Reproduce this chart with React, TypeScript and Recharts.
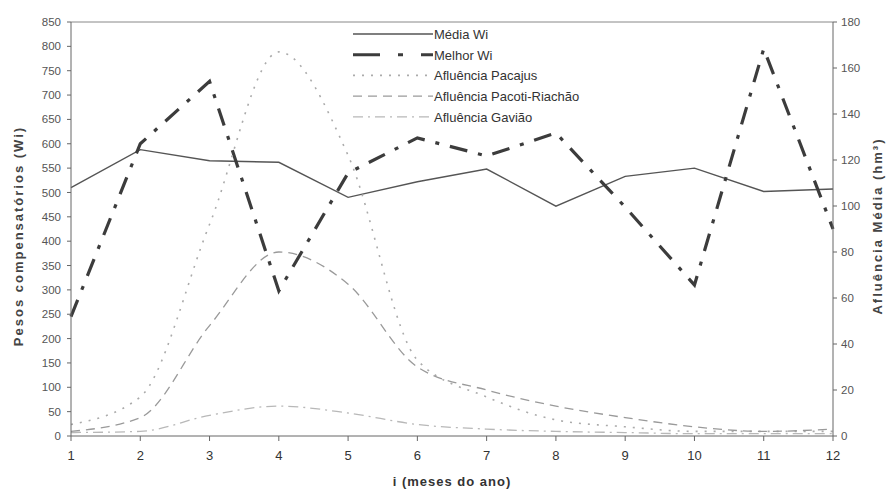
import React from "react";
import {
  LineChart,
  Line,
  XAxis,
  YAxis,
  ReferenceLine,
  Legend,
} from "recharts";

// months 1..12
const meses = [1, 2, 3, 4, 5, 6, 7, 8, 9, 10, 11, 12];

// compensatory weights (left axis)
const mediaWi = [510, 588, 565, 562, 490, 522, 548, 472, 533, 550, 502, 507];
const melhorWi = [245, 600, 728, 298, 540, 612, 575, 622, 470, 310, 795, 425];

// mean inflows in hm³ (right axis)
const pacajus = [5, 17, 92, 167, 122, 33, 17, 7, 4, 2, 2, 2];
const pacotiRiachao = [2, 8, 48, 80, 66, 30, 20, 13, 8, 4, 2, 3];
const gaviao = [1.5, 2, 9, 13, 10, 5, 3, 2, 1.5, 1, 1, 1];

const ticksLeft = [0, 50, 100, 150, 200, 250, 300, 350, 400, 450, 500, 550, 600, 650, 700, 750, 800, 850];
const ticksRight = [0, 20, 40, 60, 80, 100, 120, 140, 160, 180];

const data = meses.map((m, i) => ({
  mes: m,
  mediaWi: mediaWi[i],
  melhorWi: melhorWi[i],
  pacajus: pacajus[i],
  pacoti: pacotiRiachao[i],
  gaviao: gaviao[i],
}));

const SERIES = [
  { key: "mediaWi", name: "Média Wi", color: "#555555", width: 1.4, dash: undefined, axis: "left", curve: "linear" },
  { key: "melhorWi", name: "Melhor Wi", color: "#3c3c3c", width: 3.2, dash: "18 11 4 11", axis: "left", curve: "linear" },
  { key: "pacajus", name: "Afluência Pacajus", color: "#ababab", width: 1.6, dash: "2 7", axis: "right", curve: "monotone" },
  { key: "pacoti", name: "Afluência Pacoti-Riachão", color: "#9a9a9a", width: 1.3, dash: "9 6", axis: "right", curve: "monotone" },
  { key: "gaviao", name: "Afluência Gavião", color: "#b8b8b8", width: 1.3, dash: "10 5 2 5", axis: "right", curve: "monotone" },
] as const;

const FONT = "'Liberation Sans', Arial, sans-serif";
const NARROW = "'Liberation Sans Narrow', 'Liberation Sans', Arial, sans-serif";

const LegendBox = () => (
  <svg width={260} height={110}>
    {SERIES.map((s, i) => {
      const y = 8 + i * 20.7;
      return (
        <g key={s.key}>
          <line
            x1={0}
            x2={80}
            y1={y}
            y2={y}
            stroke={s.color}
            strokeWidth={s.key === "melhorWi" ? 3 : s.width}
            strokeDasharray={s.key === "melhorWi" ? "27 18 5 18" : s.dash}
          />
          <text x={81} y={y + 5} fontSize={13} fill="#333" fontFamily={FONT}>
            {s.name}
          </text>
        </g>
      );
    })}
  </svg>
);

const LeftTitle = () => (
  <text
    x={18}
    y={236}
    transform="rotate(-90 18 236)"
    textAnchor="middle"
    dominantBaseline="central"
    fontSize={13}
    fontWeight="bold"
    letterSpacing={2}
    fill="#444"
    fontFamily={FONT}
  >
    Pesos compensatórios (Wi)
  </text>
);

const RightTitle = () => (
  <text
    x={877}
    y={226}
    transform="rotate(-90 877 226)"
    textAnchor="middle"
    dominantBaseline="central"
    fontSize={13}
    fontWeight="bold"
    letterSpacing={2}
    fill="#444"
    fontFamily={FONT}
  >
    Afluência Média (hm³)
  </text>
);

const BottomTitle = () => (
  <text
    x={452}
    y={486}
    textAnchor="middle"
    fontSize={13}
    fontWeight="bold"
    letterSpacing={1}
    fill="#333"
    fontFamily={NARROW}
  >
    i (meses do ano)
  </text>
);

export default function App() {
  return (
    <div style={{ position: "absolute", left: 0, top: 0, width: 889, height: 496, background: "#fff" }}>
      <LineChart
        width={889}
        height={496}
        data={data}
        margin={{ top: 22, right: 6, bottom: 10, left: 21 }}
      >
        <XAxis
          dataKey="mes"
          type="number"
          domain={[1, 12]}
          ticks={meses}
          interval={0}
          height={50}
          tickSize={5}
          tickMargin={10}
          stroke="#666"
          tick={{ fill: "#333", fontSize: 13, fontFamily: NARROW }}
          label={<BottomTitle />}
        />
        <YAxis
          yAxisId="left"
          domain={[0, 850]}
          ticks={ticksLeft}
          interval={0}
          width={50}
          tickSize={4}
          tickMargin={6}
          stroke="#666"
          tick={{ fill: "#555", fontSize: 11.5, fontFamily: FONT }}
          label={<LeftTitle />}
        />
        <YAxis
          yAxisId="right"
          orientation="right"
          domain={[0, 180]}
          ticks={ticksRight}
          interval={0}
          width={50}
          tickSize={4}
          tickMargin={4}
          stroke="#666"
          tick={{ fill: "#555", fontSize: 11.5, fontFamily: FONT }}
          label={<RightTitle />}
        />
        <ReferenceLine yAxisId="left" y={850} stroke="#888" strokeWidth={1} />
        {SERIES.map((s) => (
          <Line
            key={s.key}
            yAxisId={s.axis}
            type={s.curve}
            dataKey={s.key}
            name={s.name}
            stroke={s.color}
            strokeWidth={s.width}
            strokeDasharray={s.dash}
            dot={false}
            activeDot={false}
            isAnimationActive={false}
          />
        ))}
        <Legend
          layout="vertical"
          align="center"
          verticalAlign="middle"
          content={<LegendBox />}
          wrapperStyle={{ top: 26, left: 353, width: 260, height: 110 }}
        />
      </LineChart>
    </div>
  );
}
